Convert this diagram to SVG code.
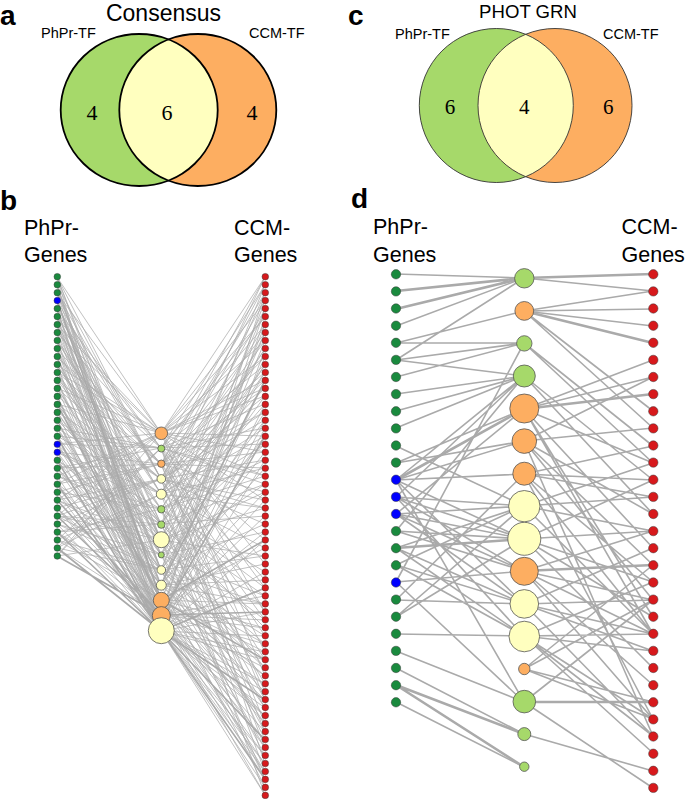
<svg xmlns="http://www.w3.org/2000/svg" width="685" height="799" viewBox="0 0 685 799">
<style>
.t{font-family:"Liberation Sans",Arial,sans-serif;fill:#000}
.lab{font-weight:bold;font-size:28px}
.set{font-size:14.5px}
.hd{font-size:21.5px}
.num{font-family:"Liberation Serif","Times New Roman",serif;text-anchor:middle;fill:#000}
.eb{fill:none;stroke:#acacac;stroke-width:0.75}
.ebt{fill:none;stroke:#aaaaaa;stroke-width:1.6}
.ed{fill:none;stroke:#aaaaaa;stroke-width:1.6}
.edt{fill:none;stroke:#aaaaaa;stroke-width:2.6}
.pg{fill:#1a8a3e;stroke:#3a3a3a;stroke-width:0.5}
.bl{fill:#0000ff;stroke:#3a3a3a;stroke-width:0.5}
.cg{fill:#d7191c;stroke:#3a3a3a;stroke-width:0.5}
.tg{fill:#a6d96a;stroke:#555;stroke-width:0.8}
.to{fill:#fdae61;stroke:#555;stroke-width:0.8}
.ty{fill:#ffffbf;stroke:#555;stroke-width:0.8}
</style>
<defs>
<clipPath id="clipA"><ellipse cx="197.8" cy="110" rx="78.5" ry="76"/></clipPath>
<clipPath id="clipC"><circle cx="555" cy="105.5" r="77"/></clipPath>
</defs>
<rect width="685" height="799" fill="#fff"/>

<!-- Panel labels and titles -->
<text class="t lab" x="0" y="25">a</text>
<text class="t lab" x="348" y="25">c</text>
<text class="t lab" x="0" y="210">b</text>
<text class="t lab" x="351" y="208">d</text>
<text class="t" x="163.5" y="21" font-size="23" text-anchor="middle">Consensus</text>
<text class="t" x="528" y="17.5" font-size="18.6" text-anchor="middle">PHOT GRN</text>

<!-- Venn a -->
<g id="a-phpr-tf">
<ellipse cx="139.2" cy="110" rx="78.5" ry="76" fill="#a6d96a"/>
</g>
<g id="a-ccm-tf">
<ellipse cx="197.8" cy="110" rx="78.5" ry="76" fill="#fdae61"/>
</g>
<g id="a-overlap">
<ellipse cx="139.2" cy="110" rx="78.5" ry="76" fill="#ffffbf" clip-path="url(#clipA)"/>
<ellipse cx="139.2" cy="110" rx="78.5" ry="76" fill="none" stroke="#000" stroke-width="1.8"/>
<ellipse cx="197.8" cy="110" rx="78.5" ry="76" fill="none" stroke="#000" stroke-width="1.8"/>
</g>
<text class="t set" x="41" y="38">PhPr-TF</text>
<text class="t set" x="249" y="38">CCM-TF</text>
<text class="num" x="92" y="120" font-size="22">4</text>
<text class="num" x="167" y="120" font-size="22">6</text>
<text class="num" x="252" y="120" font-size="22">4</text>

<!-- Venn c -->
<g id="c-phpr-tf">
<circle cx="496.3" cy="105.5" r="77" fill="#a6d96a"/>
</g>
<g id="c-ccm-tf">
<circle cx="555" cy="105.5" r="77" fill="#fdae61"/>
</g>
<g id="c-overlap">
<circle cx="496.3" cy="105.5" r="77" fill="#ffffbf" clip-path="url(#clipC)"/>
<circle cx="496.3" cy="105.5" r="77" fill="none" stroke="#333" stroke-width="0.9"/>
<circle cx="555" cy="105.5" r="77" fill="none" stroke="#333" stroke-width="0.9"/>
</g>
<text class="t set" x="395" y="39">PhPr-TF</text>
<text class="t set" x="603" y="39">CCM-TF</text>
<text class="num" x="450" y="114" font-size="21">6</text>
<text class="num" x="524.3" y="114" font-size="21">4</text>
<text class="num" x="608.3" y="114" font-size="21">6</text>

<!-- Headers b, d -->
<text class="t hd" x="24" y="235">PhPr-</text>
<text class="t hd" x="24" y="262">Genes</text>
<text class="t hd" x="234" y="235">CCM-</text>
<text class="t hd" x="234" y="262">Genes</text>
<text class="t hd" x="373" y="233.5">PhPr-</text>
<text class="t hd" x="373" y="261.5">Genes</text>
<text class="t hd" x="621.5" y="234">CCM-</text>
<text class="t hd" x="621.5" y="261.5">Genes</text>

<!-- Connectors -->
<g id="connectors">
<path class="eb" d="M57 277L161 433M57 277L161 540M57 277L161 631M57 277L161 479M57 285L161 479M57 285L161 615M57 285L161 570M57 293L161 524M57 293L161 479M57 293L161 600M57 293L161 540M57 301L161 570M57 301L161 555M57 301L161 585M57 309L161 615M57 309L161 631M57 309L161 448M57 309L161 600M57 317L161 448M57 317L161 494M57 317L161 631M57 325L161 494M57 325L161 570M57 325L161 615M57 325L161 433M57 333L161 540M57 333L161 433M57 333L161 600M57 341L161 585M57 341L161 509M57 341L161 631M57 341L161 464M57 349L161 631M57 349L161 585M57 349L161 464M57 357L161 464M57 357L161 448M57 357L161 615M57 357L161 570M57 365L161 509M57 365L161 524M57 365L161 631M57 372L161 555M57 372L161 600M57 372L161 433M57 372L161 524M57 380L161 600M57 380L161 464M57 380L161 631M57 388L161 433M57 388L161 540M57 388L161 615M57 388L161 479M57 396L161 479M57 396L161 615M57 396L161 631M57 404L161 524M57 404L161 479M57 404L161 585M57 404L161 540M57 412L161 570M57 412L161 555M57 412L161 631M57 420L161 615M57 420L161 631M57 420L161 494M57 420L161 600M57 428L161 448M57 428L161 494M57 428L161 600M57 436L161 494M57 436L161 570M57 436L161 448M57 444L161 540M57 444L161 433M57 444L161 615M57 444L161 585M57 452L161 585M57 452L161 509M57 452L161 631M57 452L161 464M57 460L161 585M57 460L161 524M57 468L161 464M57 468L161 448M57 468L161 615M57 468L161 570M57 476L161 509M57 476L161 524M57 476L161 631M57 484L161 555M57 484L161 600M57 484L161 433M57 492L161 600M57 492L161 464M57 492L161 631M57 500L161 433M57 500L161 540M57 500L161 479M57 508L161 479M57 508L161 615M57 508L161 631M57 516L161 524M57 516L161 479M57 516L161 570M57 516L161 540M57 524L161 570M57 524L161 555M57 524L161 631M57 532L161 615M57 532L161 509M57 532L161 600M57 540L161 448M57 540L161 494M57 540L161 600M57 548L161 494M57 548L161 570M57 548L161 448M57 556L161 540M57 556L161 433"/>
<path class="eb" d="M57 277L161 555M57 285L161 600M57 293L161 433M57 301L161 479M57 309L161 524M57 317L161 570M57 325L161 540M57 333L161 448M57 341L161 494M57 349L161 540M57 357L161 585M57 365L161 433M57 372L161 464M57 380L161 509M57 388L161 555M57 396L161 600M57 404L161 433M57 412L161 479M57 420L161 524M57 428L161 570M57 436L161 615M57 444L161 448M57 452L161 494M57 460L161 540M57 468L161 585M57 476L161 433M57 484L161 464M57 492L161 509M57 500L161 555M57 508L161 600M57 516L161 433M57 524L161 479M57 532L161 524M57 540L161 570M57 548L161 615M57 556L161 448"/>
<path class="ebt" d="M57 484L161 631M57 516L161 615M57 532L161 631M57 548L161 631M57 436L161 631M57 500L161 615M57 556L161 615M57 460L161 631M57 404L161 600M57 300L161 600"/>
<path class="eb" d="M265 277L161 433M265 277L161 464M265 277L161 494M265 285L161 479M265 285L161 540M265 285L161 448M265 293L161 524M265 293L161 615M265 293L161 464M265 301L161 570M265 301L161 479M265 301L161 433M265 309L161 615M265 309L161 555M265 309L161 494M265 317L161 448M265 317L161 631M265 317L161 433M265 325L161 494M265 325L161 585M265 325L161 448M265 333L161 540M265 333L161 570M265 333L161 464M265 341L161 585M265 341L161 433M265 341L161 479M265 349L161 631M265 349L161 509M265 349L161 494M265 357L161 464M265 357L161 585M265 357L161 433M265 365L161 509M265 365L161 448M265 365L161 524M265 372L161 555M265 372L161 524M265 372L161 464M265 380L161 600M265 380L161 479M265 380L161 433M265 388L161 433M265 388L161 464M265 388L161 494M265 396L161 479M265 396L161 540M265 396L161 433M265 404L161 524M265 404L161 615M265 404L161 448M265 412L161 570M265 412L161 479M265 412L161 464M265 420L161 615M265 420L161 555M265 420L161 479M265 428L161 448M265 428L161 631M265 428L161 494M265 436L161 494M265 436L161 570M265 436L161 433M265 444L161 540M265 444L161 509M265 444L161 448M265 452L161 585M265 452L161 433M265 452L161 464M265 460L161 631M265 460L161 509M265 460L161 479M265 468L161 464M265 468L161 585M265 468L161 494M265 476L161 509M265 476L161 448M265 476L161 433M265 484L161 555M265 484L161 524M265 484L161 448M265 492L161 600M265 492L161 540M265 492L161 464M265 500L161 433M265 500L161 615M265 500L161 479M265 508L161 479M265 508L161 540M265 508L161 494M265 516L161 524M265 516L161 615M265 524L161 570M265 524L161 479M265 532L161 615M265 532L161 555M265 540L161 448M265 540L161 631M265 548L161 494M265 548L161 600M265 556L161 540M265 556L161 570M265 564L161 585M265 564L161 433M265 572L161 631M265 572L161 509M265 580L161 464M265 580L161 585M265 588L161 509M265 588L161 448M265 596L161 555M265 596L161 524M265 596L161 615M265 604L161 600M265 604L161 570M265 604L161 585M265 612L161 433M265 612L161 464M265 612L161 631M265 620L161 479M265 620L161 540M265 620L161 615M265 628L161 524M265 628L161 615M265 628L161 600M265 636L161 570M265 636L161 479M265 636L161 631M265 644L161 615M265 644L161 555M265 644L161 585M265 652L161 448M265 652L161 631M265 652L161 600M265 660L161 494M265 660L161 570M265 660L161 631M265 668L161 540M265 668L161 570M265 668L161 615M265 676L161 585M265 676L161 433M265 676L161 600M265 684L161 631M265 684L161 509M265 684L161 615M265 692L161 464M265 692L161 585M265 692L161 631M265 700L161 509M265 700L161 448M265 700L161 600M265 708L161 555M265 708L161 524M265 708L161 631M265 716L161 600M265 716L161 615M265 716L161 631M265 724L161 570M265 724L161 464M265 724L161 600M265 732L161 479M265 732L161 540M265 732L161 615M265 740L161 524M265 740L161 615M265 748L161 570M265 748L161 479M265 748L161 600M265 756L161 615M265 756L161 555M265 756L161 631M265 764L161 448M265 764L161 631M265 764L161 615M265 772L161 494M265 772L161 600M265 772L161 631M265 779L161 540M265 779L161 570M265 779L161 615M265 787L161 585M265 787L161 631M265 795L161 631M265 795L161 509M265 795L161 615"/>
<path class="ebt" d="M265 700L161 631M265 612L161 615M265 660L161 600M265 740L161 631M265 779L161 631M265 436L161 615M265 540L161 600M265 588L161 631M265 380L161 585"/>

<path class="ed" d="M396 274L524 278M396 326L524 278M396 360L524 278M396 343L524 311M396 343L524 343M396 360L524 343M396 377L524 343M396 582L524 343M396 360L524 376M396 394L524 376M396 411L524 376M396 428L524 376M396 497L524 376M396 531L524 376M396 480L524 376M396 463L524 409M396 514L524 409M396 480L524 441M396 463L524 441M396 480L524 474M396 600L524 474M396 446L524 506M396 514L524 506M396 565L524 506M396 617L524 506M396 548L524 506M396 497L524 506M396 480L524 539M396 497L524 539M396 514L524 539M396 531L524 539M396 617L524 539M396 514L524 571M396 531L524 571M396 582L524 571M396 497L524 571M396 480L524 604M396 514L524 604M396 565L524 604M396 600L524 604M396 548L524 604M396 497L524 636M396 548L524 636M396 634L524 636M396 565L524 636M396 480L524 702M396 582L524 702M396 651L524 702M396 668L524 734M396 702L524 767"/>
<path class="edt" d="M396 291L524 278M396 309L524 278M396 480L524 409M396 548L524 539M396 685L524 734M396 685L524 767"/>
<path class="ed" d="M524 278L653 291M524 311L653 291M524 311L653 309M524 311L653 326M524 311L653 411M524 311L653 428M524 343L653 446M524 343L653 463M524 376L653 480M524 376L653 514M524 409L653 360M524 409L653 377M524 409L653 463M524 409L653 548M524 409L653 617M524 409L653 634M524 441L653 377M524 441L653 428M524 441L653 514M524 441L653 565M524 441L653 600M524 441L653 736M524 474L653 446M524 474L653 480M524 474L653 497M524 474L653 582M524 474L653 634M524 474L653 719M524 506L653 463M524 506L653 497M524 506L653 531M524 506L653 634M524 539L653 480M524 539L653 531M524 539L653 582M524 539L653 617M524 539L653 668M524 571L653 531M524 571L653 600M524 571L653 634M524 571L653 685M524 571L653 719M524 604L653 548M524 604L653 600M524 604L653 634M524 604L653 651M524 604L653 736M524 636L653 582M524 636L653 634M524 636L653 651M524 636L653 719M524 636L653 736M524 636L653 753M524 669L653 565M524 669L653 600M524 669L653 702M524 669L653 719M524 702L653 600M524 702L653 788M524 734L653 771"/>
<path class="edt" d="M524 278L653 274M524 311L653 343M524 409L653 394M524 571L653 565M524 702L653 702"/>
</g>

<!-- Panel b nodes -->
<g id="b-phpr-genes">
<g id="b-pg0"><circle class="pg" cx="57.3" cy="276.7" r="3.3"/></g>
<g id="b-pg1"><circle class="pg" cx="57.3" cy="284.7" r="3.3"/></g>
<g id="b-pg2"><circle class="pg" cx="57.3" cy="292.7" r="3.3"/></g>
<g id="b-pg3"><circle class="bl" cx="57.3" cy="300.6" r="3.3"/></g>
<g id="b-pg4"><circle class="pg" cx="57.3" cy="308.6" r="3.3"/></g>
<g id="b-pg5"><circle class="pg" cx="57.3" cy="316.6" r="3.3"/></g>
<g id="b-pg6"><circle class="pg" cx="57.3" cy="324.6" r="3.3"/></g>
<g id="b-pg7"><circle class="pg" cx="57.3" cy="332.6" r="3.3"/></g>
<g id="b-pg8"><circle class="pg" cx="57.3" cy="340.5" r="3.3"/></g>
<g id="b-pg9"><circle class="pg" cx="57.3" cy="348.5" r="3.3"/></g>
<g id="b-pg10"><circle class="pg" cx="57.3" cy="356.5" r="3.3"/></g>
<g id="b-pg11"><circle class="pg" cx="57.3" cy="364.5" r="3.3"/></g>
<g id="b-pg12"><circle class="pg" cx="57.3" cy="372.5" r="3.3"/></g>
<g id="b-pg13"><circle class="pg" cx="57.3" cy="380.4" r="3.3"/></g>
<g id="b-pg14"><circle class="pg" cx="57.3" cy="388.4" r="3.3"/></g>
<g id="b-pg15"><circle class="pg" cx="57.3" cy="396.4" r="3.3"/></g>
<g id="b-pg16"><circle class="pg" cx="57.3" cy="404.4" r="3.3"/></g>
<g id="b-pg17"><circle class="pg" cx="57.3" cy="412.4" r="3.3"/></g>
<g id="b-pg18"><circle class="pg" cx="57.3" cy="420.3" r="3.3"/></g>
<g id="b-pg19"><circle class="pg" cx="57.3" cy="428.3" r="3.3"/></g>
<g id="b-pg20"><circle class="pg" cx="57.3" cy="436.3" r="3.3"/></g>
<g id="b-pg21"><circle class="bl" cx="57.3" cy="444.3" r="3.3"/></g>
<g id="b-pg22"><circle class="bl" cx="57.3" cy="452.3" r="3.3"/></g>
<g id="b-pg23"><circle class="pg" cx="57.3" cy="460.2" r="3.3"/></g>
<g id="b-pg24"><circle class="pg" cx="57.3" cy="468.2" r="3.3"/></g>
<g id="b-pg25"><circle class="pg" cx="57.3" cy="476.2" r="3.3"/></g>
<g id="b-pg26"><circle class="pg" cx="57.3" cy="484.2" r="3.3"/></g>
<g id="b-pg27"><circle class="pg" cx="57.3" cy="492.2" r="3.3"/></g>
<g id="b-pg28"><circle class="pg" cx="57.3" cy="500.1" r="3.3"/></g>
<g id="b-pg29"><circle class="pg" cx="57.3" cy="508.1" r="3.3"/></g>
<g id="b-pg30"><circle class="pg" cx="57.3" cy="516.1" r="3.3"/></g>
<g id="b-pg31"><circle class="pg" cx="57.3" cy="524.1" r="3.3"/></g>
<g id="b-pg32"><circle class="pg" cx="57.3" cy="532.1" r="3.3"/></g>
<g id="b-pg33"><circle class="pg" cx="57.3" cy="540.0" r="3.3"/></g>
<g id="b-pg34"><circle class="pg" cx="57.3" cy="548.0" r="3.3"/></g>
<g id="b-pg35"><circle class="pg" cx="57.3" cy="556.0" r="3.3"/></g>
</g>
<g id="b-ccm-genes">
<g id="b-cg0"><circle class="cg" cx="265.3" cy="276.7" r="3.3"/></g>
<g id="b-cg1"><circle class="cg" cx="265.3" cy="284.7" r="3.3"/></g>
<g id="b-cg2"><circle class="cg" cx="265.3" cy="292.7" r="3.3"/></g>
<g id="b-cg3"><circle class="cg" cx="265.3" cy="300.6" r="3.3"/></g>
<g id="b-cg4"><circle class="cg" cx="265.3" cy="308.6" r="3.3"/></g>
<g id="b-cg5"><circle class="cg" cx="265.3" cy="316.6" r="3.3"/></g>
<g id="b-cg6"><circle class="cg" cx="265.3" cy="324.6" r="3.3"/></g>
<g id="b-cg7"><circle class="cg" cx="265.3" cy="332.6" r="3.3"/></g>
<g id="b-cg8"><circle class="cg" cx="265.3" cy="340.5" r="3.3"/></g>
<g id="b-cg9"><circle class="cg" cx="265.3" cy="348.5" r="3.3"/></g>
<g id="b-cg10"><circle class="cg" cx="265.3" cy="356.5" r="3.3"/></g>
<g id="b-cg11"><circle class="cg" cx="265.3" cy="364.5" r="3.3"/></g>
<g id="b-cg12"><circle class="cg" cx="265.3" cy="372.5" r="3.3"/></g>
<g id="b-cg13"><circle class="cg" cx="265.3" cy="380.4" r="3.3"/></g>
<g id="b-cg14"><circle class="cg" cx="265.3" cy="388.4" r="3.3"/></g>
<g id="b-cg15"><circle class="cg" cx="265.3" cy="396.4" r="3.3"/></g>
<g id="b-cg16"><circle class="cg" cx="265.3" cy="404.4" r="3.3"/></g>
<g id="b-cg17"><circle class="cg" cx="265.3" cy="412.4" r="3.3"/></g>
<g id="b-cg18"><circle class="cg" cx="265.3" cy="420.3" r="3.3"/></g>
<g id="b-cg19"><circle class="cg" cx="265.3" cy="428.3" r="3.3"/></g>
<g id="b-cg20"><circle class="cg" cx="265.3" cy="436.3" r="3.3"/></g>
<g id="b-cg21"><circle class="cg" cx="265.3" cy="444.3" r="3.3"/></g>
<g id="b-cg22"><circle class="cg" cx="265.3" cy="452.3" r="3.3"/></g>
<g id="b-cg23"><circle class="cg" cx="265.3" cy="460.2" r="3.3"/></g>
<g id="b-cg24"><circle class="cg" cx="265.3" cy="468.2" r="3.3"/></g>
<g id="b-cg25"><circle class="cg" cx="265.3" cy="476.2" r="3.3"/></g>
<g id="b-cg26"><circle class="cg" cx="265.3" cy="484.2" r="3.3"/></g>
<g id="b-cg27"><circle class="cg" cx="265.3" cy="492.2" r="3.3"/></g>
<g id="b-cg28"><circle class="cg" cx="265.3" cy="500.1" r="3.3"/></g>
<g id="b-cg29"><circle class="cg" cx="265.3" cy="508.1" r="3.3"/></g>
<g id="b-cg30"><circle class="cg" cx="265.3" cy="516.1" r="3.3"/></g>
<g id="b-cg31"><circle class="cg" cx="265.3" cy="524.1" r="3.3"/></g>
<g id="b-cg32"><circle class="cg" cx="265.3" cy="532.1" r="3.3"/></g>
<g id="b-cg33"><circle class="cg" cx="265.3" cy="540.0" r="3.3"/></g>
<g id="b-cg34"><circle class="cg" cx="265.3" cy="548.0" r="3.3"/></g>
<g id="b-cg35"><circle class="cg" cx="265.3" cy="556.0" r="3.3"/></g>
<g id="b-cg36"><circle class="cg" cx="265.3" cy="564.0" r="3.3"/></g>
<g id="b-cg37"><circle class="cg" cx="265.3" cy="572.0" r="3.3"/></g>
<g id="b-cg38"><circle class="cg" cx="265.3" cy="579.9" r="3.3"/></g>
<g id="b-cg39"><circle class="cg" cx="265.3" cy="587.9" r="3.3"/></g>
<g id="b-cg40"><circle class="cg" cx="265.3" cy="595.9" r="3.3"/></g>
<g id="b-cg41"><circle class="cg" cx="265.3" cy="603.9" r="3.3"/></g>
<g id="b-cg42"><circle class="cg" cx="265.3" cy="611.9" r="3.3"/></g>
<g id="b-cg43"><circle class="cg" cx="265.3" cy="619.8" r="3.3"/></g>
<g id="b-cg44"><circle class="cg" cx="265.3" cy="627.8" r="3.3"/></g>
<g id="b-cg45"><circle class="cg" cx="265.3" cy="635.8" r="3.3"/></g>
<g id="b-cg46"><circle class="cg" cx="265.3" cy="643.8" r="3.3"/></g>
<g id="b-cg47"><circle class="cg" cx="265.3" cy="651.8" r="3.3"/></g>
<g id="b-cg48"><circle class="cg" cx="265.3" cy="659.7" r="3.3"/></g>
<g id="b-cg49"><circle class="cg" cx="265.3" cy="667.7" r="3.3"/></g>
<g id="b-cg50"><circle class="cg" cx="265.3" cy="675.7" r="3.3"/></g>
<g id="b-cg51"><circle class="cg" cx="265.3" cy="683.7" r="3.3"/></g>
<g id="b-cg52"><circle class="cg" cx="265.3" cy="691.7" r="3.3"/></g>
<g id="b-cg53"><circle class="cg" cx="265.3" cy="699.6" r="3.3"/></g>
<g id="b-cg54"><circle class="cg" cx="265.3" cy="707.6" r="3.3"/></g>
<g id="b-cg55"><circle class="cg" cx="265.3" cy="715.6" r="3.3"/></g>
<g id="b-cg56"><circle class="cg" cx="265.3" cy="723.6" r="3.3"/></g>
<g id="b-cg57"><circle class="cg" cx="265.3" cy="731.6" r="3.3"/></g>
<g id="b-cg58"><circle class="cg" cx="265.3" cy="739.5" r="3.3"/></g>
<g id="b-cg59"><circle class="cg" cx="265.3" cy="747.5" r="3.3"/></g>
<g id="b-cg60"><circle class="cg" cx="265.3" cy="755.5" r="3.3"/></g>
<g id="b-cg61"><circle class="cg" cx="265.3" cy="763.5" r="3.3"/></g>
<g id="b-cg62"><circle class="cg" cx="265.3" cy="771.5" r="3.3"/></g>
<g id="b-cg63"><circle class="cg" cx="265.3" cy="779.4" r="3.3"/></g>
<g id="b-cg64"><circle class="cg" cx="265.3" cy="787.4" r="3.3"/></g>
<g id="b-cg65"><circle class="cg" cx="265.3" cy="795.4" r="3.3"/></g>
</g>
<g id="b-tfs">
<g id="b-tf0"><circle class="to" cx="161.3" cy="433.3" r="6.3"/></g>
<g id="b-tf1"><circle class="tg" cx="161.3" cy="448.6" r="3.5"/></g>
<g id="b-tf2"><circle class="to" cx="161.3" cy="463.7" r="3.7"/></g>
<g id="b-tf3"><circle class="ty" cx="161.3" cy="478.9" r="4.3"/></g>
<g id="b-tf4"><circle class="ty" cx="161.3" cy="494.2" r="5"/></g>
<g id="b-tf5"><circle class="tg" cx="161.3" cy="509.3" r="3.7"/></g>
<g id="b-tf6"><circle class="tg" cx="161.3" cy="524.6" r="3.7"/></g>
<g id="b-tf7"><circle class="ty" cx="161.3" cy="539.7" r="8"/></g>
<g id="b-tf8"><circle class="tg" cx="161.3" cy="554.9" r="3"/></g>
<g id="b-tf9"><circle class="ty" cx="161.3" cy="570" r="4.3"/></g>
<g id="b-tf10"><circle class="ty" cx="161.3" cy="585.2" r="5"/></g>
<g id="b-tf11"><circle class="to" cx="161.3" cy="600.3" r="8"/></g>
<g id="b-tf12"><circle class="to" cx="161.3" cy="615.6" r="9"/></g>
<g id="b-tf13"><circle class="ty" cx="161.3" cy="630.7" r="13"/></g>
</g>

<!-- Panel d nodes -->
<g id="d-phpr-genes">
<g id="d-pg0"><circle class="pg" cx="396" cy="274.3" r="4.7"/></g>
<g id="d-pg1"><circle class="pg" cx="396" cy="291.4" r="4.7"/></g>
<g id="d-pg2"><circle class="pg" cx="396" cy="308.5" r="4.7"/></g>
<g id="d-pg3"><circle class="pg" cx="396" cy="325.7" r="4.7"/></g>
<g id="d-pg4"><circle class="pg" cx="396" cy="342.8" r="4.7"/></g>
<g id="d-pg5"><circle class="pg" cx="396" cy="359.9" r="4.7"/></g>
<g id="d-pg6"><circle class="pg" cx="396" cy="377.0" r="4.7"/></g>
<g id="d-pg7"><circle class="pg" cx="396" cy="394.1" r="4.7"/></g>
<g id="d-pg8"><circle class="pg" cx="396" cy="411.3" r="4.7"/></g>
<g id="d-pg9"><circle class="pg" cx="396" cy="428.4" r="4.7"/></g>
<g id="d-pg10"><circle class="pg" cx="396" cy="445.5" r="4.7"/></g>
<g id="d-pg11"><circle class="pg" cx="396" cy="462.6" r="4.7"/></g>
<g id="d-pg12"><circle class="bl" cx="396" cy="479.7" r="4.7"/></g>
<g id="d-pg13"><circle class="bl" cx="396" cy="496.9" r="4.7"/></g>
<g id="d-pg14"><circle class="bl" cx="396" cy="514.0" r="4.7"/></g>
<g id="d-pg15"><circle class="pg" cx="396" cy="531.1" r="4.7"/></g>
<g id="d-pg16"><circle class="pg" cx="396" cy="548.2" r="4.7"/></g>
<g id="d-pg17"><circle class="pg" cx="396" cy="565.3" r="4.7"/></g>
<g id="d-pg18"><circle class="bl" cx="396" cy="582.5" r="4.7"/></g>
<g id="d-pg19"><circle class="pg" cx="396" cy="599.6" r="4.7"/></g>
<g id="d-pg20"><circle class="pg" cx="396" cy="616.7" r="4.7"/></g>
<g id="d-pg21"><circle class="pg" cx="396" cy="633.8" r="4.7"/></g>
<g id="d-pg22"><circle class="pg" cx="396" cy="650.9" r="4.7"/></g>
<g id="d-pg23"><circle class="pg" cx="396" cy="668.0" r="4.7"/></g>
<g id="d-pg24"><circle class="pg" cx="396" cy="685.2" r="4.7"/></g>
<g id="d-pg25"><circle class="pg" cx="396" cy="702.3" r="4.7"/></g>
</g>
<g id="d-ccm-genes">
<g id="d-cg0"><circle class="cg" cx="653.3" cy="274.3" r="4.7"/></g>
<g id="d-cg1"><circle class="cg" cx="653.3" cy="291.4" r="4.7"/></g>
<g id="d-cg2"><circle class="cg" cx="653.3" cy="308.5" r="4.7"/></g>
<g id="d-cg3"><circle class="cg" cx="653.3" cy="325.7" r="4.7"/></g>
<g id="d-cg4"><circle class="cg" cx="653.3" cy="342.8" r="4.7"/></g>
<g id="d-cg5"><circle class="cg" cx="653.3" cy="359.9" r="4.7"/></g>
<g id="d-cg6"><circle class="cg" cx="653.3" cy="377.0" r="4.7"/></g>
<g id="d-cg7"><circle class="cg" cx="653.3" cy="394.1" r="4.7"/></g>
<g id="d-cg8"><circle class="cg" cx="653.3" cy="411.3" r="4.7"/></g>
<g id="d-cg9"><circle class="cg" cx="653.3" cy="428.4" r="4.7"/></g>
<g id="d-cg10"><circle class="cg" cx="653.3" cy="445.5" r="4.7"/></g>
<g id="d-cg11"><circle class="cg" cx="653.3" cy="462.6" r="4.7"/></g>
<g id="d-cg12"><circle class="cg" cx="653.3" cy="479.7" r="4.7"/></g>
<g id="d-cg13"><circle class="cg" cx="653.3" cy="496.9" r="4.7"/></g>
<g id="d-cg14"><circle class="cg" cx="653.3" cy="514.0" r="4.7"/></g>
<g id="d-cg15"><circle class="cg" cx="653.3" cy="531.1" r="4.7"/></g>
<g id="d-cg16"><circle class="cg" cx="653.3" cy="548.2" r="4.7"/></g>
<g id="d-cg17"><circle class="cg" cx="653.3" cy="565.3" r="4.7"/></g>
<g id="d-cg18"><circle class="cg" cx="653.3" cy="582.5" r="4.7"/></g>
<g id="d-cg19"><circle class="cg" cx="653.3" cy="599.6" r="4.7"/></g>
<g id="d-cg20"><circle class="cg" cx="653.3" cy="616.7" r="4.7"/></g>
<g id="d-cg21"><circle class="cg" cx="653.3" cy="633.8" r="4.7"/></g>
<g id="d-cg22"><circle class="cg" cx="653.3" cy="650.9" r="4.7"/></g>
<g id="d-cg23"><circle class="cg" cx="653.3" cy="668.0" r="4.7"/></g>
<g id="d-cg24"><circle class="cg" cx="653.3" cy="685.2" r="4.7"/></g>
<g id="d-cg25"><circle class="cg" cx="653.3" cy="702.3" r="4.7"/></g>
<g id="d-cg26"><circle class="cg" cx="653.3" cy="719.4" r="4.7"/></g>
<g id="d-cg27"><circle class="cg" cx="653.3" cy="736.5" r="4.7"/></g>
<g id="d-cg28"><circle class="cg" cx="653.3" cy="753.7" r="4.7"/></g>
<g id="d-cg29"><circle class="cg" cx="653.3" cy="770.8" r="4.7"/></g>
<g id="d-cg30"><circle class="cg" cx="653.3" cy="787.9" r="4.7"/></g>
</g>
<g id="d-tfs">
<g id="d-tf1"><circle class="tg" cx="524.3" cy="278.3" r="9.7"/></g>
<g id="d-tf2"><circle class="to" cx="524.3" cy="310.9" r="9.4"/></g>
<g id="d-tf3"><circle class="tg" cx="524.3" cy="343.4" r="7.7"/></g>
<g id="d-tf4"><circle class="tg" cx="524.3" cy="376.0" r="11"/></g>
<g id="d-tf5"><circle class="to" cx="524.3" cy="408.5" r="14.5"/></g>
<g id="d-tf6"><circle class="to" cx="524.3" cy="441.1" r="12.3"/></g>
<g id="d-tf7"><circle class="to" cx="524.3" cy="473.7" r="11.5"/></g>
<g id="d-tf8"><circle class="ty" cx="524.3" cy="506.2" r="15.7"/></g>
<g id="d-tf9"><circle class="ty" cx="524.3" cy="538.8" r="16.5"/></g>
<g id="d-tf10"><circle class="to" cx="524.3" cy="571.3" r="14"/></g>
<g id="d-tf11"><circle class="ty" cx="524.3" cy="603.9" r="14.3"/></g>
<g id="d-tf12"><circle class="ty" cx="524.3" cy="636.5" r="15.3"/></g>
<g id="d-tf13"><circle class="to" cx="524.3" cy="669.0" r="5.7"/></g>
<g id="d-tf14"><circle class="tg" cx="524.3" cy="701.6" r="11.3"/></g>
<g id="d-tf15"><circle class="tg" cx="524.3" cy="734.1" r="6.5"/></g>
<g id="d-tf16"><circle class="tg" cx="524.3" cy="766.7" r="4.7"/></g>
</g>
</svg>
